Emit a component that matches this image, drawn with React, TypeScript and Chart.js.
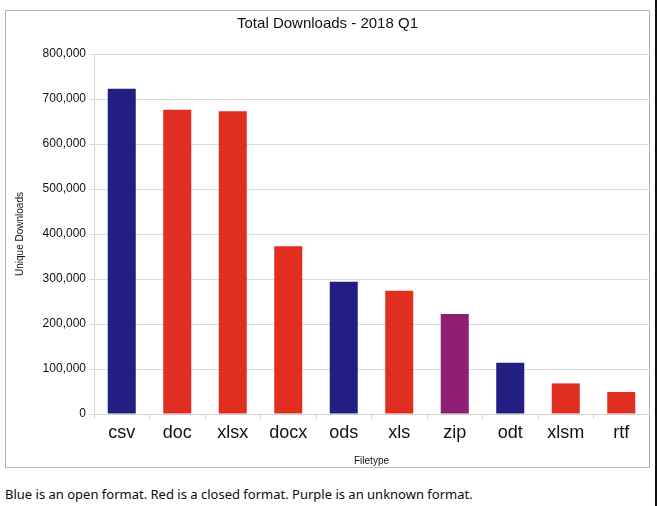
import React, { useEffect, useRef } from "react";
import { Chart, registerables } from "chart.js";

Chart.register(...registerables);

const categories = ["csv", "doc", "xlsx", "docx", "ods", "xls", "zip", "odt", "xlsm", "rtf"];
const downloads = [723000, 676000, 673000, 373000, 294000, 274000, 222000, 114000, 68000, 49000];
const formatKinds = ["open", "closed", "closed", "closed", "open", "closed", "unknown", "open", "closed", "closed"];
const kindColors: Record<string, string> = {
  open: "#231f82",
  closed: "#e02e21",
  unknown: "#8f1f74",
};
const yMin = 0;
const yMax = 800000;
const yStep = 100000;

const chartTitle = "Total Downloads - 2018 Q1";
const xTitle = "Filetype";
const yTitle = "Unique Downloads";
const caption = "Blue is an open format. Red is a closed format. Purple is an unknown format.";

const FONT = "'Liberation Sans', Arial, sans-serif";

export default function App() {
  const canvasRef = useRef<HTMLCanvasElement | null>(null);

  useEffect(() => {
    if (!canvasRef.current) return;
    const chart = new Chart(canvasRef.current, {
      type: "bar",
      data: {
        labels: categories,
        datasets: [
          {
            data: downloads,
            backgroundColor: formatKinds.map((k) => kindColors[k]),
            borderWidth: 0,
            barPercentage: 0.505,
            categoryPercentage: 1,
          },
        ],
      },
      options: {
        animation: false,
        responsive: false,
        maintainAspectRatio: false,
        devicePixelRatio: 1,
        layout: { padding: 0 },
        plugins: {
          legend: { display: false },
          tooltip: { enabled: false },
          title: {
            display: true,
            text: chartTitle,
            color: "#111",
            font: { family: FONT, size: 15, weight: "normal" },
            padding: { top: 4, bottom: 21 },
          },
        },
        scales: {
          x: {
            offset: true,
            grid: {
              offset: true,
              drawOnChartArea: false,
              drawTicks: true,
              tickLength: 5,
              color: "#d4d4d4",
            },
            border: { color: "#d4d4d4" },
            ticks: {
              color: "#111",
              font: { family: FONT, size: 18 },
              padding: 3,
              maxRotation: 0,
            },
            title: {
              display: true,
              text: xTitle,
              color: "#111",
              font: { family: FONT, size: 10 },
              padding: { top: 0, bottom: 0 },
            },
            afterFit: (s: any) => {
              s.height = 53;
            },
          },
          y: {
            min: yMin,
            max: yMax,
            grid: {
              color: "#dcdcdc",
              tickLength: 5,
            },
            border: { color: "#d4d4d4" },
            ticks: {
              stepSize: yStep,
              color: "#111",
              font: { family: FONT, size: 12 },
              padding: 3,
              callback: (v: any) => Number(v).toLocaleString("en-US"),
            },
            title: {
              display: true,
              text: yTitle,
              color: "#111",
              font: { family: FONT, size: 10 },
              padding: { top: 8, bottom: 0 },
            },
            afterFit: (s: any) => {
              s.width = 88;
            },
          },
        },
      },
    });
    return () => chart.destroy();
  }, []);

  return (
    <div style={{ position: "absolute", left: 0, top: 0, width: 658, height: 506, background: "#fff" }}>
      <div
        style={{
          position: "absolute",
          left: 5,
          top: 10,
          width: 643,
          height: 456,
          border: "1px solid #b4b4b4",
        }}
      >
        <canvas ref={canvasRef} width={643} height={456} style={{ display: "block", width: 643, height: 456 }} />
      </div>
      <div
        style={{
          position: "absolute",
          left: 5,
          top: 485,
          fontFamily: "'Noto Sans', sans-serif",
          fontSize: 13,
          lineHeight: "18px",
          color: "#0b0c0c",
          whiteSpace: "nowrap",
        }}
      >
        {caption}
      </div>
      <div style={{ position: "absolute", left: 655, top: 0, width: 2, height: 506, background: "#111" }} />
    </div>
  );
}
